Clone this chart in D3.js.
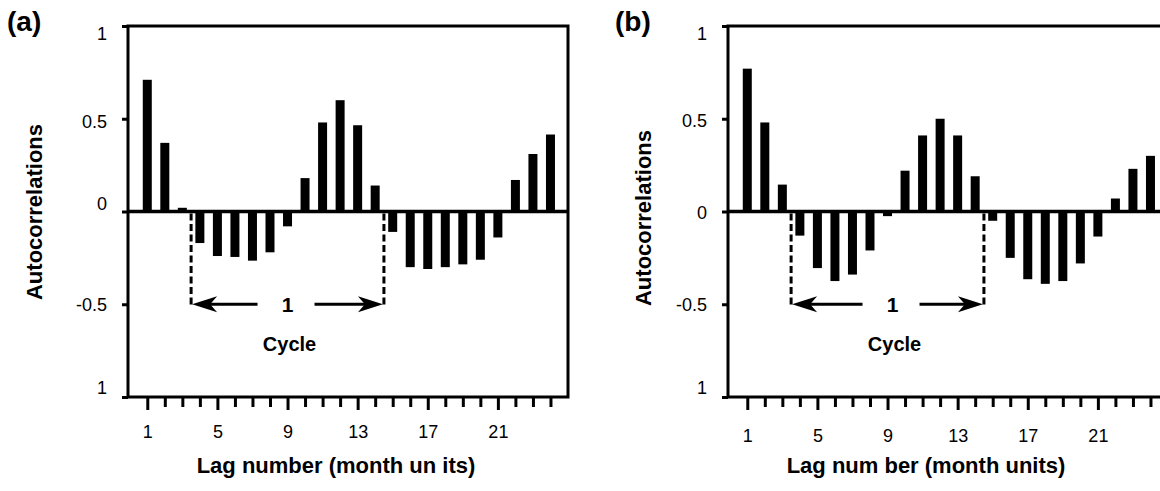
<!DOCTYPE html>
<html>
<head>
<meta charset="utf-8">
<script src="https://cdn.jsdelivr.net/npm/d3@7"></script>
<style>
    body { margin: 0; background: #fff; }
    svg { display: block; }
    text { font-family: Arial, "Liberation Sans", sans-serif; fill: #000; }
</style>
</head>
<body>
<div id="chart"></div>
<script>
// lag numbers on the x axis
const lags = [1, 2, 3, 4, 5, 6, 7, 8, 9, 10, 11, 12, 13, 14, 15, 16, 17, 18, 19, 20, 21, 22, 23, 24];

// autocorrelations
const acfA = [0.71, 0.37, 0.02, -0.17, -0.24, -0.245, -0.265, -0.22, -0.08, 0.18, 0.48, 0.60,
              0.465, 0.14, -0.11, -0.30, -0.31, -0.30, -0.285, -0.26, -0.14, 0.17, 0.31, 0.415];
const acfB = [0.77, 0.48, 0.145, -0.13, -0.305, -0.375, -0.34, -0.21, -0.025, 0.22, 0.41, 0.50,
              0.41, 0.19, -0.05, -0.25, -0.365, -0.39, -0.375, -0.28, -0.135, 0.07, 0.23, 0.30];

const yTickValues = [1, 0.5, 0, -0.5, -1];
const yTickLabels = ["1", "0.5", "0", "-0.5", "1"];
const labeledLags = [1, 5, 9, 13, 17, 21];
const cycleBounds = [3.5, 14.5];

const panelNames = ["(a)", "(b)"];
const xTitles = ["Lag number (month un its)", "Lag num ber (month units)"];
const yTitle = "Autocorrelations";
const cycleText = "Cycle";
const cycleCount = "1";

const width = 1160, height = 491;
const frameW = 440, frameTop = 26, frameBottom = 397;

const svg = d3.select("#chart")
    .append("svg")
    .attr("width", width)
    .attr("height", height);

const panels = [
    { values: acfA, name: panelNames[0], xTitle: xTitles[0], left: 128, nameX: 7,
      yTitleX: 34, yTitleY: 212, xTitleX: 336, tickBase: 438, labelDx: 0,
      yLabelDy: [7, 2, -9, 0, -10] },
    { values: acfB, name: panelNames[1], xTitle: xTitles[1], left: 728, nameX: 615,
      yTitleX: 643, yTitleY: 218, xTitleX: 926, tickBase: 442, labelDx: 5,
      yLabelDy: [7, 1, 0, 0, -10] }
];

function arrowHead(tipX, tipY, dir) {
    // barbed arrow head pointing in dir (-1 left, +1 right)
    const len = 25, half = 8, notch = 7;
    return `M${tipX},${tipY}` +
        `L${tipX - dir * len},${tipY - half}` +
        `L${tipX - dir * (len - notch)},${tipY}` +
        `L${tipX - dir * len},${tipY + half}Z`;
}

function drawPanel(p) {
    const x = d3.scaleLinear().domain([-0.1, 25]).range([p.left, p.left + frameW]);
    const y = d3.scaleLinear().domain([-1, 1]).range([frameBottom, frameTop]);
    const g = svg.append("g");

    // bars
    g.append("g")
        .selectAll("rect")
        .data(lags)
        .join("rect")
        .attr("x", d => x(d) - 4.5)
        .attr("width", 9)
        .attr("y", (d, i) => y(Math.max(0, p.values[i])))
        .attr("height", (d, i) => Math.abs(y(p.values[i]) - y(0)))
        .attr("fill", "#000");

    // frame
    g.append("rect")
        .attr("x", x.range()[0])
        .attr("y", y(1))
        .attr("width", frameW)
        .attr("height", y(-1) - y(1))
        .attr("fill", "none")
        .attr("stroke", "#000")
        .attr("stroke-width", 3);

    // zero line
    g.append("line")
        .attr("x1", x.range()[0]).attr("x2", x.range()[1])
        .attr("y1", y(0)).attr("y2", y(0))
        .attr("stroke", "#000")
        .attr("stroke-width", 3.5);

    // y axis
    const yAxis = g.append("g")
        .attr("transform", `translate(${x.range()[0]},0)`)
        .call(d3.axisLeft(y)
            .tickValues(yTickValues)
            .tickSize(6)
            .tickPadding(15)
            .tickFormat((d, i) => yTickLabels[i]));
    yAxis.select(".domain").remove();
    yAxis.selectAll(".tick line").attr("stroke", "#000").attr("stroke-width", 3);
    yAxis.selectAll(".tick text")
        .attr("font-size", 18)
        .attr("fill", "#000")
        .attr("dy", (d, i) => (p.yLabelDy[i] + 6.5) + "px");

    // x axis
    const xAxis = g.append("g")
        .attr("transform", `translate(0,${y(-1)})`)
        .call(d3.axisBottom(x)
            .tickValues(lags)
            .tickSize(10)
            .tickFormat(d => labeledLags.includes(d) ? d : ""));
    xAxis.select(".domain").remove();
    xAxis.selectAll(".tick line")
        .attr("stroke", "#000")
        .attr("stroke-width", 3)
        .attr("y2", d => labeledLags.includes(d) ? 13 : 10);
    xAxis.selectAll(".tick text")
        .attr("font-size", 18)
        .attr("fill", "#000")
        .attr("y", p.tickBase - y(-1))
        .attr("dy", 0);

    // cycle markers
    const cx0 = x(cycleBounds[0]), cx1 = x(cycleBounds[1]);
    const mid = (cx0 + cx1) / 2 + p.labelDx;
    const ay = y(-0.5);
    g.selectAll("line.cyc")
        .data(cycleBounds)
        .join("line")
        .attr("class", "cyc")
        .attr("x1", d => x(d)).attr("x2", d => x(d))
        .attr("y1", y(0) + 2).attr("y2", ay + 1)
        .attr("stroke", "#000")
        .attr("stroke-width", 3)
        .attr("stroke-dasharray", "7,3.5");

    g.append("line")
        .attr("x1", cx0 + 10).attr("x2", mid - 30)
        .attr("y1", ay).attr("y2", ay)
        .attr("stroke", "#000").attr("stroke-width", 3);
    g.append("line")
        .attr("x1", mid + 27).attr("x2", cx1 - 10)
        .attr("y1", ay).attr("y2", ay)
        .attr("stroke", "#000").attr("stroke-width", 3);
    g.append("path").attr("d", arrowHead(cx0 + 1, ay, -1)).attr("fill", "#000");
    g.append("path").attr("d", arrowHead(cx1 - 1, ay, 1)).attr("fill", "#000");

    g.append("text")
        .attr("x", mid).attr("y", ay + 7.5)
        .attr("text-anchor", "middle")
        .attr("font-size", 21)
        .attr("font-weight", "bold")
        .text(cycleCount);
    g.append("text")
        .attr("x", mid + 2).attr("y", 351)
        .attr("text-anchor", "middle")
        .attr("font-size", 20)
        .attr("font-weight", "bold")
        .text(cycleText);

    // titles
    g.append("text")
        .attr("x", p.nameX).attr("y", 31)
        .attr("font-size", 28)
        .attr("font-weight", "bold")
        .text(p.name);
    g.append("text")
        .attr("transform", `translate(${p.yTitleX},${p.yTitleY}) rotate(-90)`)
        .attr("text-anchor", "middle")
        .attr("dy", "0.35em")
        .attr("font-size", 22)
        .attr("font-weight", "bold")
        .text(yTitle);
    g.append("text")
        .attr("x", p.xTitleX).attr("y", 473)
        .attr("text-anchor", "middle")
        .attr("font-size", 22)
        .attr("font-weight", "bold")
        .text(p.xTitle);
}

panels.forEach(drawPanel);
</script>
</body>
</html>
